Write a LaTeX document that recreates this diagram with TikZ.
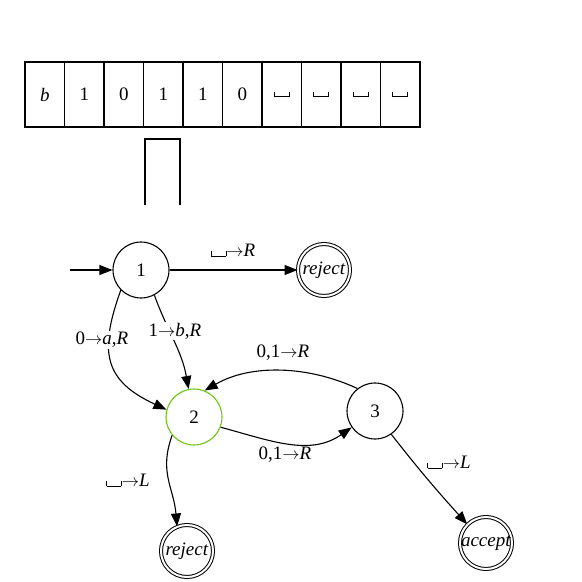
\documentclass[tikz,border=0pt]{standalone}
\usepackage{fontspec}
\setmainfont{Liberation Serif}
\usetikzlibrary{arrows.meta}
\newcommand\blanksym{\rule{0.7pt}{0.28em}\rule{0.75em}{0.7pt}\rule{0.7pt}{0.28em}}
\definecolor{stgreen}{RGB}{110,195,20}
\begin{document}
\begin{tikzpicture}[x=1pt,y=1pt,
  every node/.style={font=\fontsize{19}{21}\selectfont},
  cell/.style={draw, line width=1.4pt, minimum width=39.5pt, minimum height=65pt, inner sep=0pt},
  state/.style={draw, circle, line width=1.1pt, minimum size=56pt, inner sep=0pt},
  final/.style={draw, circle, double, double distance=2pt, line width=1pt, minimum size=52pt, inner sep=0pt},
  edge/.style={-{Triangle[length=13pt,width=10pt]}, line width=1.1pt},
  lbl/.style={inner sep=1pt},
  lblw/.style={inner sep=1pt, fill=white}]
\useasboundingbox (0,0) rectangle (582,-582);
% tape
\foreach \t [count=\i from 0] in {\textit{b},1,0,1,1,0,\blanksym,\blanksym,\blanksym,\blanksym}
  \node[cell] (c\i) at ({25+39.5*(\i+0.5)},-94.5) {\t};
% head
\coordinate (h1) at (145,-205);
\coordinate (h2) at (145,-139);
\coordinate (h3) at (180,-139);
\coordinate (h4) at (180,-205);
\draw[line width=1.4pt] (h1) -- (h2) -- (h3) -- (h4);
% states
\node[state] (q1) at (141,-270) {1};
\node[state, draw=stgreen] (q2) at (194,-417) {2};
\node[state] (q3) at (375,-411) {3};
\node[final] (rj1) at (324,-270) {\textit{reject}};
\node[final] (rj2) at (187,-551) {\textit{reject}};
\node[final] (acc) at (486,-543) {\textit{accept}};
\coordinate (start) at (70,-270);
% edges
\draw[edge] (start) -- (q1);
\draw[edge] (q1) -- (rj1);
\draw[edge] (q1.-135) to[out=-110,in=155,looseness=1.35] (q2.165);
\draw[edge] (q1.-62) to[out=-70,in=100] (q2.101);
\draw[edge] (q3.128) to[out=155,in=30,looseness=0.9] (q2.68);
\draw[edge] (q2.-21) to[out=-15,in=-145] (q3.-145);
\draw[edge] (q2.-140) to[out=-110,in=95,looseness=1.1] (rj2.112);
\draw[edge] (q3.-55) to[out=-52,in=132] (acc.135);
% labels
\node[lbl] (l1) at (233,-250) {\blanksym$\to$\textit{R}};
\node[lblw] (l2) at (102,-340) {0$\to$\textit{a},\textit{R}};
\node[lblw] (l3) at (175,-331) {1$\to$\textit{b},\textit{R}};
\node[lbl] (l4) at (283,-353) {0,1$\to$\textit{R}};
\node[lbl] (l5) at (285,-455) {0,1$\to$\textit{R}};
\node[lbl] (l6) at (128,-480) {\blanksym$\to$\textit{L}};
\node[lbl] (l7) at (449,-462) {\blanksym$\to$\textit{L}};
\end{tikzpicture}
\end{document}
